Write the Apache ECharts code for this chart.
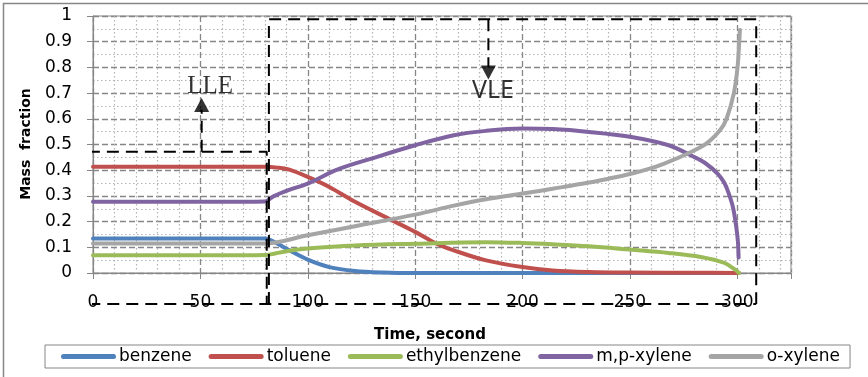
<!DOCTYPE html>
<html><head><meta charset="utf-8">
<script src="https://cdn.jsdelivr.net/npm/echarts@6/dist/echarts.min.js"></script>
<style>html,body{margin:0;padding:0;background:#fff}#c{width:868px;height:377px}</style>
</head><body><div id="c"></div>
<script>
// ---- data (time in s, mass fraction) ----
const seriesNames = ['benzene', 'toluene', 'ethylbenzene', 'm,p-xylene', 'o-xylene'];
const benzene = [[0,0.134],[70,0.134],[80,0.134],[85,0.118],[91,0.09],[100,0.052],[110,0.023],[122,0.008],[135,0.002],[150,0],[200,0],[250,0],[300,0]];
const toluene = [[0,0.413],[70,0.413],[80,0.413],[86,0.41],[91,0.403],[100,0.374],[110,0.335],[122,0.277],[138,0.21],[150,0.16],[160,0.114],[168,0.088],[183,0.049],[200,0.023],[214,0.01],[231,0.004],[250,0.002],[280,0.001],[300.8,0]];
const ethylbenzene = [[0,0.069],[70,0.069],[80,0.07],[90,0.085],[100,0.095],[122,0.107],[150,0.114],[183,0.12],[200,0.117],[214,0.112],[231,0.104],[250,0.091],[268,0.078],[283,0.062],[294,0.039],[299,0.013],[300.8,0]];
const mpXylene = [[0,0.277],[70,0.277],[80,0.278],[84,0.298],[91,0.322],[100,0.348],[114,0.403],[130,0.446],[150,0.497],[168,0.536],[183,0.553],[200,0.562],[214,0.56],[231,0.549],[250,0.53],[268,0.497],[279,0.455],[285,0.428],[291,0.385],[294,0.35],[296,0.31],[298,0.255],[299.5,0.18],[300.3,0.12],[300.6,0.06]];
const oXylene = [[0,0.115],[70,0.115],[80,0.115],[100,0.147],[122,0.182],[150,0.227],[168,0.262],[183,0.287],[200,0.309],[214,0.328],[231,0.352],[240,0.367],[250,0.385],[258,0.403],[266,0.426],[277,0.465],[285.7,0.504],[292,0.556],[295,0.6],[298.4,0.7],[300.1,0.8],[300.9,0.9],[301.2,0.946]];
const seriesData = [benzene, toluene, ethylbenzene, mpXylene, oXylene];
const seriesColors = ['#4F81BD', '#C0504D', '#9BBB59', '#8064A2', '#A5A5A5'];
const xTickLabels = [0, 50, 100, 150, 200, 250, 300];

// ---- annotations (data coordinates) ----
const lleBox = [[-2.2,-0.121],[-2.2,0.472],[80.9,0.472],[80.9,-0.121]];
const vleBox = [[81.9,-0.121],[81.9,0.987],[308.8,0.987],[308.8,-0.121]];
const bottomLine = [[-2.2,-0.121],[308.8,-0.121]];
const lleArrow = [[50.6,0.472],[50.6,0.635]];
const vleArrow = [[184.1,0.987],[184.1,0.80]];
const arrowHeads = [[50.6,0.654,0],[184.1,0.78,180]];
const regionLabels = [['LLE',54.5,0.724],['VLE',186.2,0.709]];

const FONT = 'DejaVu Sans';
const GRID_DARK = '#868686';
const GRID_DOT = '#b4b4b4';
const LEGEND_ICON = 'path://M2.5,0 L52.5,0 A2.5,2.5 0 0 1 52.5,5 L2.5,5 A2.5,2.5 0 0 1 2.5,0 Z';

const chart = echarts.init(document.getElementById('c'), null, {renderer: 'canvas'});

const lineSeries = seriesNames.map((n, i) => ({
  name: n, type: 'line', xAxisIndex: 0, yAxisIndex: 0,
  data: seriesData[i], symbol: 'none', smooth: 0.35,
  color: seriesColors[i],
  itemStyle: {color: seriesColors[i]},
  lineStyle: {width: 4, color: seriesColors[i], cap: 'round', join: 'round'},
  z: 3, silent: true
}));

const dashStyle = {color: '#000', width: 2, type: [12, 7]};
const annotSeries = [lleBox, vleBox, bottomLine, lleArrow, vleArrow].map((d, i) => ({
  name: 'annot' + i, type: 'line', data: d, symbol: 'none', clip: false,
  lineStyle: dashStyle, z: 5, silent: true, animation: false
}));

const headSeries = {
  name: 'heads', type: 'scatter', clip: false, silent: true, z: 6,
  data: arrowHeads.map(h => ({value: [h[0], h[1]], symbolRotate: h[2]})),
  symbol: 'triangle', symbolSize: [15, 14], itemStyle: {color: '#000'}
};

const labelSeries = {
  name: 'regionLabels', type: 'scatter', clip: false, silent: true, z: 6,
  symbolSize: 1, itemStyle: {color: 'rgba(0,0,0,0)'},
  data: regionLabels.map(r => ({
    value: [r[1], r[2]],
    label: {
      show: true, position: 'inside', formatter: r[0], color: '#000',
      fontFamily: r[0] === 'LLE' ? 'Liberation Serif' : 'Noto Sans',
      fontSize: 25
    }
  }))
};

chart.setOption({
  animation: false,
  backgroundColor: '#fff',
  grid: {left: 93, right: 77, top: 16, bottom: 104, show: true, borderColor: GRID_DARK, borderWidth: 1, containLabel: false},
  xAxis: [{
    type: 'value', min: 0, max: 325, interval: 50,
    axisLine: {show: true, lineStyle: {color: GRID_DARK, width: 1}},
    axisTick: {show: true, length: 6, lineStyle: {color: GRID_DARK}},
    axisLabel: {
      margin: 21, fontFamily: FONT, fontSize: 17, color: '#000',
      formatter: v => (xTickLabels.indexOf(v) >= 0 ? String(v) : '')
    },
    splitLine: {show: true, lineStyle: {color: GRID_DARK, width: 1.3, type: [6, 3]}}
  }, {
    type: 'value', min: 0, max: 325, interval: 10, position: 'bottom',
    axisLine: {show: false}, axisTick: {show: false}, axisLabel: {show: false},
    splitLine: {show: true, showMinLine: true, lineStyle: {color: ['rgba(0,0,0,0)', GRID_DOT, GRID_DOT, GRID_DOT, GRID_DOT], width: 1.2, type: [1.5, 2.5]}}
  }],
  yAxis: [{
    type: 'value', min: 0, max: 1, interval: 0.1,
    axisLine: {show: true, lineStyle: {color: GRID_DARK, width: 1}},
    axisTick: {show: true, length: 6, lineStyle: {color: GRID_DARK}},
    axisLabel: {margin: 21, fontFamily: FONT, fontSize: 17, color: '#000'},
    splitLine: {show: true, lineStyle: {color: GRID_DARK, width: 1.3, type: [6, 3]}},
    minorTick: {show: false, splitNumber: 2},
    minorSplitLine: {show: true, lineStyle: {color: GRID_DOT, width: 1.2, type: [1.5, 2.5]}}
  }],
  legend: {
    data: seriesNames.map(n => ({name: n, icon: LEGEND_ICON})),
    left: 45, top: 345, orient: 'horizontal',
    padding: [3, 10, 3, 16], itemGap: 17, itemWidth: 55, itemHeight: 5,
    borderColor: GRID_DARK, borderWidth: 1, borderRadius: 0,
    textStyle: {fontFamily: FONT, fontSize: 17, color: '#000', padding: [0, 0, 0, -2]},
    selectedMode: false
  },
  graphic: [
    {type: 'rect', shape: {x: 3.5, y: 3.5, width: 900, height: 400}, style: {fill: 'none', stroke: GRID_DARK, lineWidth: 1.5}, z: -1, silent: true},
    {type: 'text', x: 26, y: 144, rotation: Math.PI / 2, style: {text: 'Mass  fraction', fontFamily: FONT, fontWeight: 'bold', fontSize: 14, fill: '#000', align: 'center', verticalAlign: 'middle'}, silent: true},
    {type: 'text', x: 430, y: 335, style: {text: 'Time, second', fontFamily: FONT, fontWeight: 'bold', fontSize: 15, fill: '#000', align: 'center', verticalAlign: 'middle'}, silent: true}
  ],
  series: lineSeries.concat(annotSeries, [headSeries, labelSeries])
});
</script>
</body></html>
